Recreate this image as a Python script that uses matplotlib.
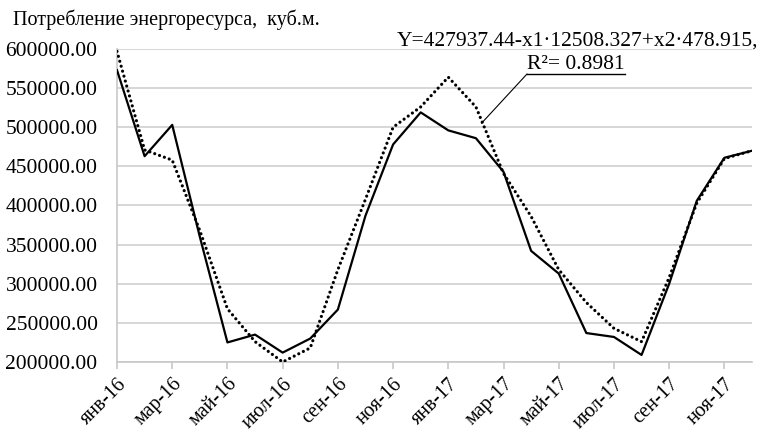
import matplotlib.pyplot as plt

plt.rcParams['font.family'] = ['Liberation Serif', 'DejaVu Serif']

months = ['янв-16', 'фев-16', 'мар-16', 'апр-16', 'май-16', 'июн-16',
          'июл-16', 'авг-16', 'сен-16', 'окт-16', 'ноя-16', 'дек-16',
          'янв-17', 'фев-17', 'мар-17', 'апр-17', 'май-17', 'июн-17',
          'июл-17', 'авг-17', 'сен-17', 'окт-17', 'ноя-17', 'дек-17']

# фактическое потребление
actual = [573000, 463000, 503000, 360000, 225000, 235000,
          212000, 230000, 267000, 387000, 478000, 519000,
          496000, 486000, 443000, 342000, 313000, 237000,
          232000, 209000, 300000, 406000, 461000, 470000]

# модель
model = [597000, 471000, 458000, 368000, 268000, 226000,
         200000, 218000, 318000, 408000, 500000, 526000,
         564000, 526000, 441000, 386000, 318000, 276000,
         243000, 226000, 308000, 403000, 460000, 470000]

equation = 'Y=427937.44-x1·12508.327+x2·478.915,'
r2_text = 'R²= 0.8981'

W, H = 760, 434
fig = plt.figure(figsize=(W / 100, H / 100), dpi=100)
x0, x1, y0, y1 = 117, 752, 49, 362
ax = fig.add_axes([x0 / W, 1 - y1 / H, (x1 - x0) / W, (y1 - y0) / H])

x = list(range(len(months)))
ax.plot(x, model, color='black', lw=2.3, linestyle=(0, (0.01, 1.6)),
        dash_capstyle='round', zorder=3)
ax.plot(x, actual, color='black', lw=1.6, zorder=4)

ax.set_xlim(0, len(months) - 1)
ax.set_ylim(200000, 600000)
ax.set_yticks(range(200000, 600001, 50000))
ax.set_yticklabels([f'{v:.2f}' for v in range(200000, 600001, 50000)], fontsize=15.5)
ax.set_xticks(x[::2])
ax.set_xticklabels(months[::2], rotation=45, ha='right', rotation_mode='anchor',
                   fontsize=14.5)

ax.grid(axis='y', color='#d0d0d0', lw=1.2)
ax.set_axisbelow(True)
for s in ['top', 'right']:
    ax.spines[s].set_visible(False)
for s in ['left', 'bottom']:
    ax.spines[s].set_color('#c8c8c8')
    ax.spines[s].set_linewidth(1.2)
ax.tick_params(axis='y', length=0, pad=14)
ax.tick_params(axis='x', length=5, color='#c8c8c8', width=1.2, pad=4)

fig.text(13 / W, 1 - 20 / H, 'Потребление энергоресурса,  куб.м.', fontsize=14.5,
         va='center', ha='left')

# подпись уравнения регрессии
ax.text(0.725, 1 - (46 - y0) / (y1 - y0), equation, transform=ax.transAxes,
        ha='center', va='baseline', fontsize=15.5, clip_on=False)
ax.text(0.7225, 1 - (69 - y0) / (y1 - y0), r2_text, transform=ax.transAxes,
        ha='center', va='baseline', fontsize=15.5, clip_on=False)
uy = 1 - (74 - y0) / (y1 - y0)
ax.plot([(527 - x0) / (x1 - x0), (625 - x0) / (x1 - x0)], [uy, uy],
        transform=ax.transAxes, color='black', lw=1.0, clip_on=False)
ax.annotate('', xy=(13.2, 505000), xycoords='data',
            xytext=((527 - x0) / (x1 - x0), uy), textcoords='axes fraction',
            arrowprops=dict(arrowstyle='-', color='black', lw=0.8,
                            shrinkA=0, shrinkB=0))

fig.savefig('out.png', dpi=100)
